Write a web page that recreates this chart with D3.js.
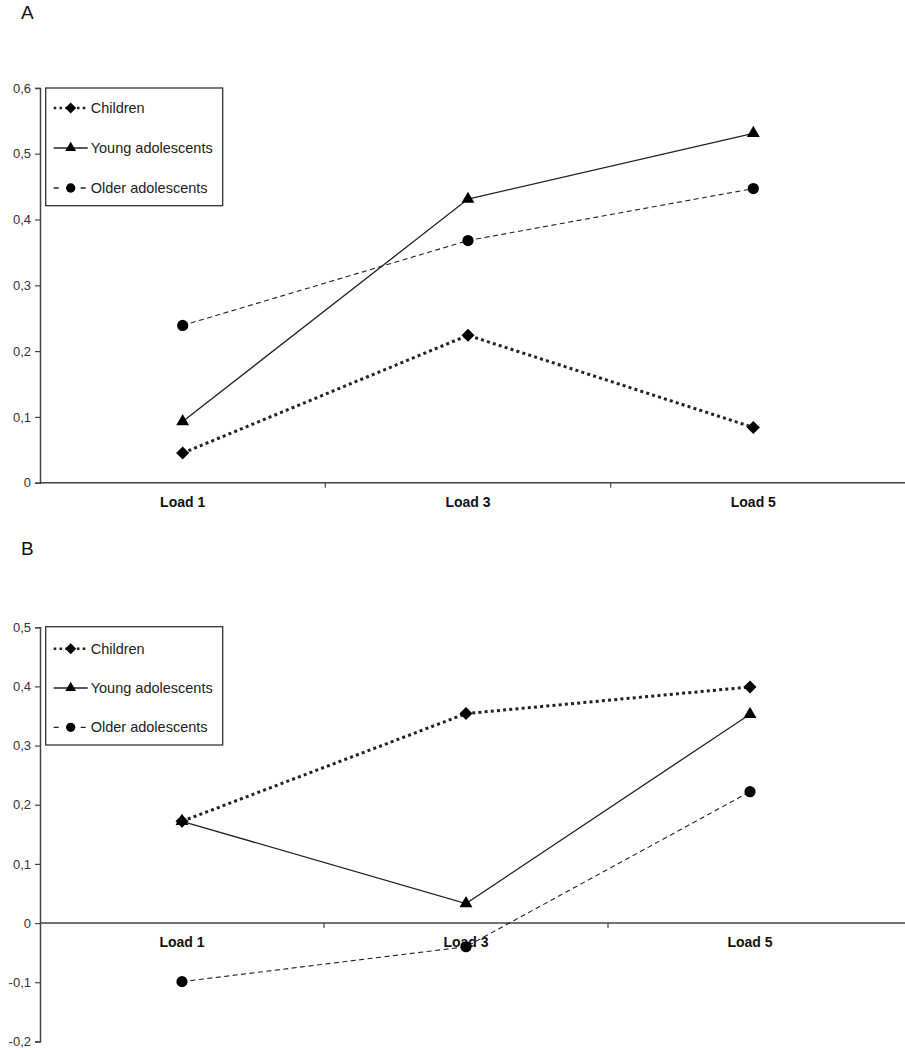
<!DOCTYPE html>
<html><head><meta charset="utf-8">
<script src="https://cdn.jsdelivr.net/npm/d3@7"></script>
<style>body{margin:0;background:#fff;font-family:"Liberation Sans",Arial,sans-serif;}</style>
</head><body>
<svg id="c" width="905" height="1050"></svg>
<script>
const categories = ["Load 1", "Load 3", "Load 5"];
const seriesNames = ["Children", "Young adolescents", "Older adolescents"];
// Panel A
const childrenA = [0.045, 0.224, 0.084];
const youngA = [0.093, 0.431, 0.531];
const olderA = [0.239, 0.368, 0.447];
const ticksA = [0, 0.1, 0.2, 0.3, 0.4, 0.5, 0.6];
// Panel B
const childrenB = [0.172, 0.354, 0.399];
const youngB = [0.172, 0.033, 0.353];
const olderB = [-0.099, -0.040, 0.222];
const ticksB = [-0.2, -0.1, 0, 0.1, 0.2, 0.3, 0.4, 0.5];

const svg = d3.select("#c");
const fmt = d => d === 0 ? "0" : d.toFixed(1).replace(".", ",");
const styles = {
  "Children": {dash: "3,3.2", width: 3, shape: d3.symbolSquare, rot: 45, size: 85},
  "Young adolescents": {dash: null, width: 1.3, shape: d3.symbolTriangle, rot: 0, size: 72},
  "Older adolescents": {dash: "5,3.5", width: 1.1, shape: d3.symbolCircle, rot: 0, size: 98}
};

function panel(cfg) {
  const g = svg.append("g");
  const x = d3.scaleBand().domain(categories).range([cfg.x0, cfg.x1]);
  const y = d3.scaleLinear().domain(cfg.domain).range([cfg.yb, cfg.yt]);
  g.append("text").attr("x", 21).attr("y", cfg.labelY).attr("font-size", 19)
    .attr("fill", "#111").text(cfg.label);
  // y axis
  const ya = g.append("g").attr("transform", `translate(${cfg.x0},0)`)
    .call(d3.axisLeft(y).tickValues(cfg.ticks).tickFormat(fmt).tickSize(5).tickPadding(4));
  ya.select(".domain").attr("stroke", "#444").attr("stroke-width", 1.5);
  ya.selectAll(".tick line").attr("stroke", "#444").attr("stroke-width", 1.2);
  ya.selectAll("text").attr("font-size", 13).attr("fill", "#333")
    .attr("font-family", "Liberation Sans, Arial, sans-serif");
  // x axis at zero
  const y0 = y(0);
  const xa = g.append("g").attr("transform", `translate(0,${y0})`)
    .call(d3.axisBottom(x).tickSize(0).tickPadding(0));
  xa.select(".domain").attr("stroke", "#444").attr("stroke-width", 1.5)
    .attr("d", `M${cfg.x0},0H905`);
  xa.selectAll(".tick text").attr("font-size", 14).attr("font-weight", "bold")
    .attr("fill", "#111").attr("dy", 0).attr("y", 24)
    .attr("font-family", "Liberation Sans, Arial, sans-serif");
  // boundary ticks
  const bounds = categories.slice(1).map(c => x(c));
  g.selectAll(".bt").data(bounds).join("line")
    .attr("x1", d => d).attr("x2", d => d).attr("y1", y0).attr("y2", y0 + 5)
    .attr("stroke", "#444").attr("stroke-width", 1.2);
  const cx = c => x(c) + x.bandwidth() / 2;
  const order = ["Young adolescents", "Older adolescents", "Children"];
  order.forEach(name => {
    const vals = cfg.data[name];
    const st = styles[name];
    const line = d3.line().x((d, i) => cx(categories[i])).y(d => y(d));
    g.append("path").datum(vals).attr("d", line).attr("fill", "none")
      .attr("stroke", "#222").attr("stroke-width", st.width)
      .attr("stroke-dasharray", st.dash);
  });
  order.forEach(name => {
    const vals = cfg.data[name];
    const st = styles[name];
    g.selectAll(null).data(vals).join("path")
      .attr("d", d3.symbol().type(st.shape).size(st.size))
      .attr("transform", (d, i) => `translate(${cx(categories[i])},${y(d)}) rotate(${st.rot})`)
      .attr("fill", "#000");
  });
  // legend
  const lg = g.append("g");
  lg.append("rect").attr("x", cfg.lx).attr("y", cfg.ly).attr("width", 177).attr("height", cfg.lh)
    .attr("fill", "#fff").attr("stroke", "#333").attr("stroke-width", 1.3);
  seriesNames.forEach((name, i) => {
    const st = styles[name];
    const yy = cfg.ly + cfg.firstOff + i * cfg.step;
    const lx0 = cfg.lx + 8, lx1 = cfg.lx + 42;
    lg.append("line").attr("x1", lx0).attr("x2", lx1).attr("y1", yy).attr("y2", yy)
      .attr("stroke", "#222").attr("stroke-width", name === "Children" ? 2.6 : 1.3)
      .attr("stroke-dasharray", name === "Children" ? "2.6,3.2" : name === "Older adolescents" ? "5,8.5" : null);
    lg.append("path").attr("d", d3.symbol().type(st.shape).size(st.size * 0.7))
      .attr("transform", `translate(${(lx0 + lx1) / 2},${yy}) rotate(${st.rot})`).attr("fill", "#000");
    lg.append("text").attr("x", cfg.lx + 45).attr("y", yy + 5).attr("font-size", 14.5)
      .attr("fill", "#222").text(name);
  });
}

panel({label: "A", labelY: 19, x0: 40, x1: 896, yb: 482.7, yt: 87.9, domain: [0, 0.6], ticks: ticksA,
  data: {"Children": childrenA, "Young adolescents": youngA, "Older adolescents": olderA},
  lx: 45.7, ly: 88, lh: 117.7, firstOff: 20, step: 40});
panel({label: "B", labelY: 555, x0: 40, x1: 892, yb: 1041.4, yt: 627.2, domain: [-0.2, 0.5], ticks: ticksB,
  data: {"Children": childrenB, "Young adolescents": youngB, "Older adolescents": olderB},
  lx: 45.7, ly: 626.7, lh: 118.3, firstOff: 22, step: 39.3});
</script>
</body></html>
